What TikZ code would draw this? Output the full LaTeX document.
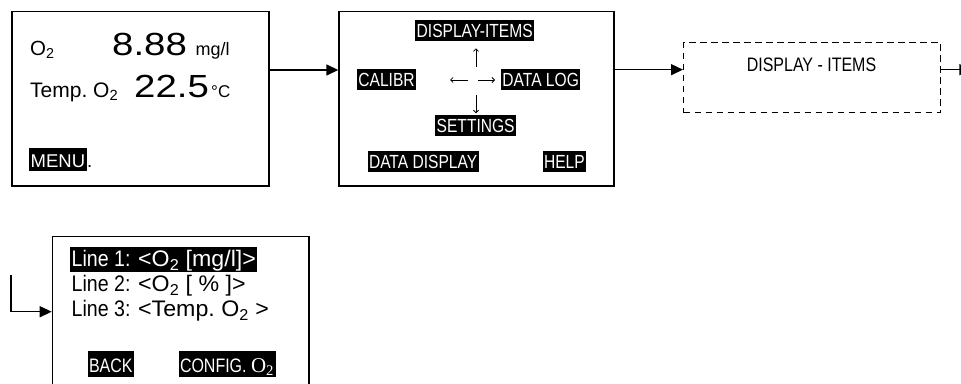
\documentclass[tikz,border=0pt]{standalone}
\usepackage{fontspec}
\setmainfont{Liberation Sans}
\newfontfamily\narrowfont[FakeStretch=0.82]{Liberation Sans}
\newfontfamily\widefont[FakeStretch=1.2]{Liberation Sans}
\newfontfamily\labelfont[FakeStretch=0.87]{Liberation Sans}
\newfontfamily\lcdfont[FakeStretch=1.03]{Liberation Sans}
\newfontfamily\seriffont{Liberation Serif}
\usetikzlibrary{arrows.meta,positioning}

\newcommand{\fs}[1]{\fontsize{#1}{#1}\selectfont}
\newcommand{\lcdline}[2]{{\labelfont\makebox[66.5pt][l]{#1}}#2}

\tikzset{
  screen/.style={draw, line width=1.5pt, inner sep=0pt, anchor=north west},
  popup/.style={draw, line width=1.3pt, dash pattern=on 6.5pt off 4.5pt, inner sep=0pt, anchor=north west},
  txt/.style={inner sep=0pt, anchor=base west},
  hilite/.style={fill=black, text=white, inner xsep=1.5pt, inner ysep=0pt, anchor=base west},
  menuitem/.style={hilite, text height=16.8pt, text depth=3.5pt, font=\narrowfont\fs{19}},
  softkey/.style={hilite, text height=21pt, text depth=4.4pt, font=\narrowfont\fs{19.5}},
  cross/.style={line width=0.8pt, -{Straight Barb[length=2.5pt,width=5pt]}},
  flow/.style={line width=1.5pt, -{Triangle[length=12pt,width=11pt]}}
}

\begin{document}
\frenchspacing
\begin{tikzpicture}[x=1pt, y=-1pt]
  \useasboundingbox (0,0) rectangle (961,383);
  \clip (0,0) rectangle (961,383);

  % screens
  \node[screen, minimum width=257.3pt, minimum height=174.3pt] (home) at (11,10.7) {};
  \node[screen, minimum width=275pt, minimum height=174.3pt]   (menu) at (338.3,10.7) {};
  \node[popup, minimum width=257pt, minimum height=70pt]       (dsp)  at (683,42) {};
  \node[screen, minimum width=256.6pt, minimum height=200pt]   (cfg)  at (51.7,235.7) {};

  % measuring screen
  \node[txt, font=\fs{20.5}] (o2)     at (30,55)    {O\textsubscript{2}};
  \node[txt, font=\widefont\fs{32}] (o2val) at (112,55) {8.88};
  \node[txt, font=\fs{18}]   (o2unit) at (195.5,55) {mg/l};
  \node[txt, font=\fs{21}]   (temp)   at (30,97)    {Temp. O\textsubscript{2}};
  \node[txt, font=\widefont\fs{32}] (tval) at (134,97) {22.5};
  \node[txt, font=\fs{17}]   (tunit)  at (211,97)   {°C};
  \node[hilite, text height=19.5pt, text depth=3.5pt, font=\fs{18.5}] (mnu) at (29,167.5) {MENU};
  \node[txt, font=\fs{18.5}] (dot) at (mnu.base east) {.};

  % main menu
  \node[menuitem] (items)   at (415,37)    {DISPLAY-ITEMS};
  \node[menuitem] (calibr)  at (356.7,86)  {CALIBR};
  \node[menuitem] (datalog) at (500.7,86)  {DATA LOG};
  \node[menuitem] (setting) at (435,132)   {SETTINGS};
  \node[menuitem] (ddisp)   at (367.3,168) {DATA DISPLAY};
  \node[menuitem] (help)    at (542.3,168) {HELP};
  \coordinate (hub) at (476,80);
  \draw[cross] ([yshift=13.3pt]hub) -- ([yshift=31.7pt]hub);
  \draw[cross] ([yshift=-15pt]hub) -- ([yshift=-33.3pt]hub);
  \draw[cross] ([xshift=-7.7pt]hub) -- ([xshift=-26pt]hub);
  \draw[cross] ([xshift=2.3pt]hub) -- ([xshift=19pt]hub);

  % display items
  \node[txt, anchor=base, font=\narrowfont\fs{19.5}] (dsptitle) at (811.5,71.5) {DISPLAY - ITEMS};

  % configuration screen
  \node[hilite, font=\lcdfont\fs{22.5}, inner ysep=1pt, text height=19pt, text depth=4pt] (line1) at (70,266.5)
        {\lcdline{Line 1:}{<O\textsubscript{2} [mg/l]>}};
  \node[txt, font=\lcdfont\fs{22.5}] (line2) at (71.5,291.5) {\lcdline{Line 2:}{<O\textsubscript{2} [ \% ]>}};
  \node[txt, font=\lcdfont\fs{22.5}] (line3) at (71.5,316.5) {\lcdline{Line 3:}{<Temp. O\textsubscript{2} >}};
  \node[softkey] (back)   at (87.3,372.3)  {BACK};
  \node[softkey] (config) at (178.3,372.3) {CONFIG. {\seriffont\fs{21}O\textsubscript{2}}};

  % arrows
  \coordinate (din)  at ([yshift=8pt]dsp.west);
  \coordinate (next) at ([xshift=30pt]dsp.east |- din);
  \coordinate (ret)  at (11,275);
  \draw[flow] (home.east |- 0,70) -- (menu.west |- 0,70);
  \draw[flow] (menu.east |- din) -- (din);
  \draw[flow] (dsp.east |- din) -- (next);
  \draw[flow] (ret) |- ([yshift=-76pt]cfg.north west);
\end{tikzpicture}
\end{document}
